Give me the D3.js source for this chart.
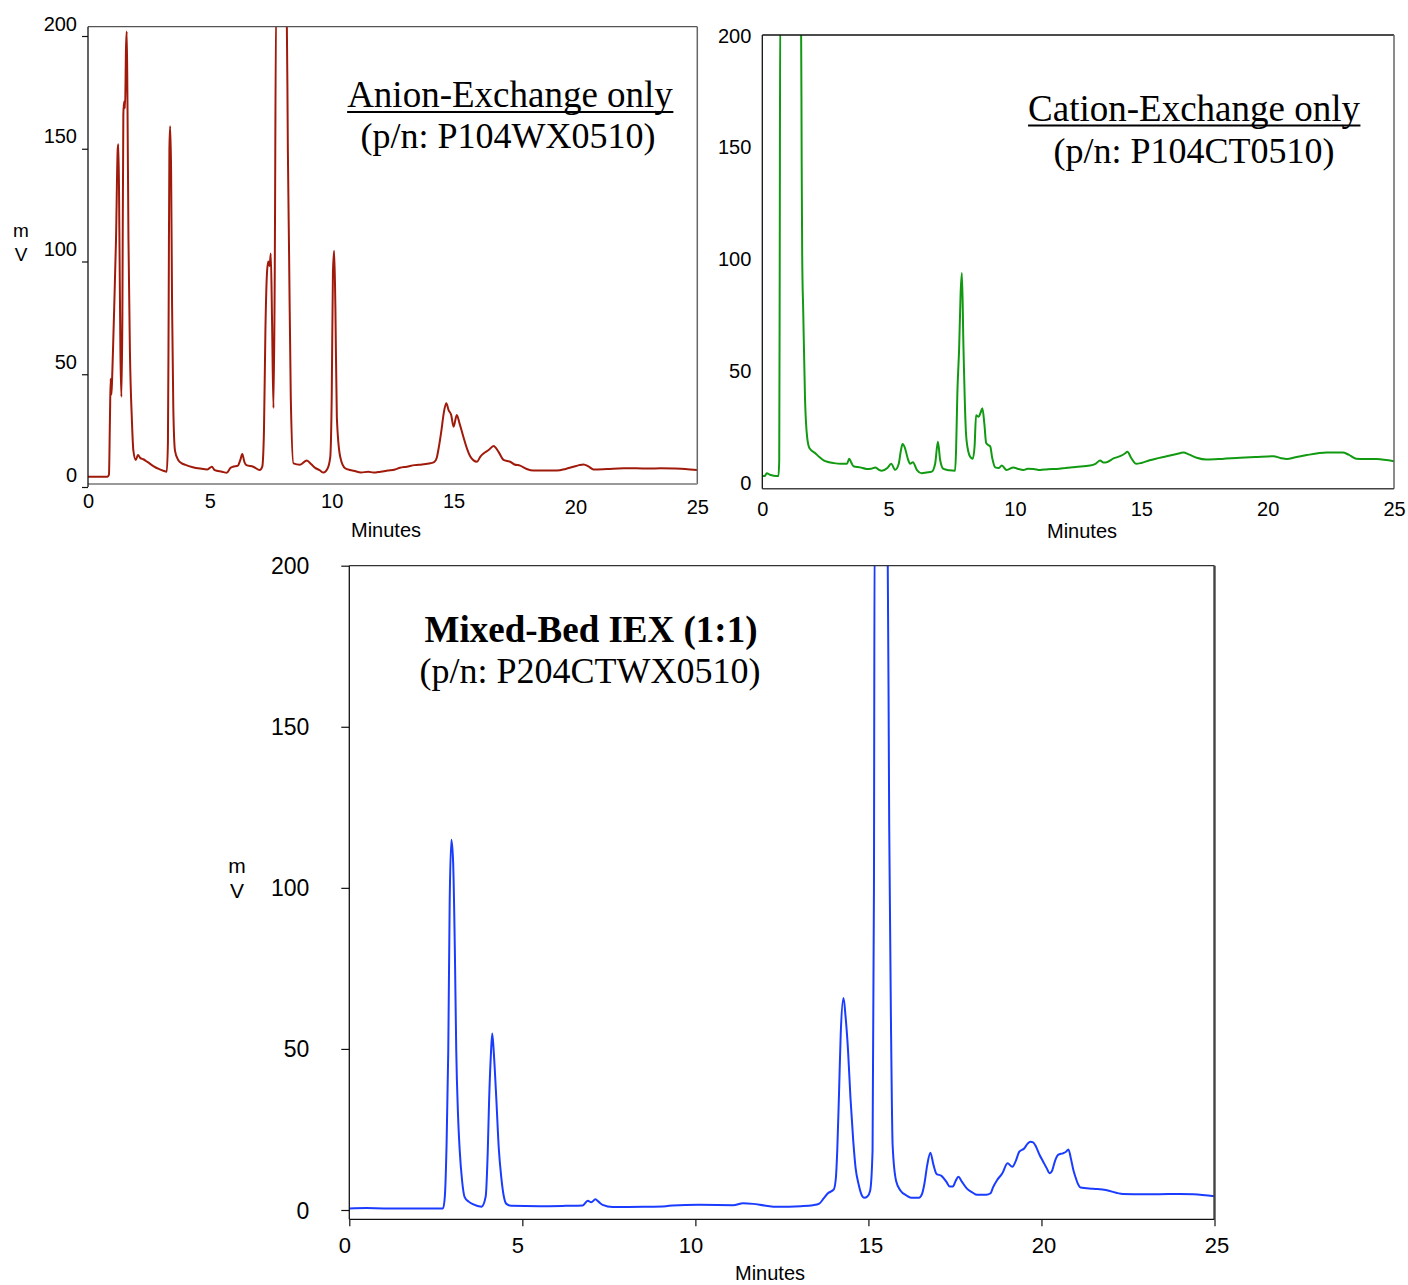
<!DOCTYPE html>
<html><head><meta charset="utf-8">
<script src="https://cdn.jsdelivr.net/npm/d3@7"></script>
<style>body{margin:0;background:#fff} svg{display:block}</style>
</head><body>
<svg id="c" width="1408" height="1285"></svg>
<script>
// ---------- data ----------
const timeTicks = [0, 5, 10, 15, 20, 25];
const mvTicks = [0, 50, 100, 150, 200];
const xLabel = "Minutes";
const yLabel = ["m", "V"];

const anionTitle = ["Anion-Exchange only", "(p/n: P104WX0510)"];
const cationTitle = ["Cation-Exchange only", "(p/n: P104CT0510)"];
const mixedTitle = ["Mixed-Bed IEX (1:1)", "(p/n: P204CTWX0510)"];

const anionTime = [0,0.8,0.86,0.9,0.93,0.96,0.99,1.05,1.15,1.22,1.25,1.29,1.33,1.37,1.41,1.45,1.48,1.52,1.56,1.59,1.62,1.66,1.72,1.8,1.86,1.96,2.05,2.15,2.27,2.45,2.68,2.9,3.09,3.23,3.28,3.31,3.34,3.37,3.41,3.45,3.5,3.57,3.7,3.85,4.0,4.3,4.6,4.9,5.08,5.2,5.5,5.69,5.85,5.95,6.15,6.25,6.33,6.42,6.5,6.78,7.05,7.15,7.22,7.28,7.35,7.4,7.45,7.5,7.55,7.61,7.66,7.72,8.15,8.2,8.25,8.32,8.43,8.7,8.98,9.15,9.32,9.5,9.66,9.82,9.94,10.0,10.05,10.1,10.15,10.21,10.35,10.55,10.76,10.9,11.2,11.5,11.71,12.0,12.3,12.6,12.8,13.08,13.4,13.7,14.04,14.2,14.31,14.4,14.5,14.6,14.7,14.8,14.9,15.0,15.13,15.25,15.4,15.55,15.68,15.82,15.96,16.1,16.23,16.45,16.64,16.85,17.05,17.2,17.32,17.5,17.73,18.0,18.28,18.8,19.24,19.6,19.92,20.15,20.33,20.55,20.74,21.3,21.98,22.5,23.0,23.5,24.03,24.5,25.0];
const anionMv   = [4.6,4.6,5.5,30,48,41,48,70,110,150,152,110,60,40,75,165,171,168,195,202,170,110,60,30,16.4,12,14.2,12.8,12.3,11,9.3,8,7.2,6.8,20,80,150,160,140,80,35,16,12,10.5,9.8,8.8,8.2,7.8,9,7.5,6.8,6.3,8.5,9,9.5,12,14.6,11,9.7,9,7.5,9,25,70,96,100,98,103.5,75,35,90,215,215,150,104,40,10.5,9.9,11.8,10.2,8.5,7.5,6.4,8,13.3,40,95,104.8,80,31,13.3,8.3,7.5,7.2,6.4,6.8,6.4,6.8,7.3,7.8,8.5,9,9.7,10,10.5,11,13,18,25,33,37.1,34,32,26.7,31.9,28,22.3,17,13.6,11.8,11.2,13.5,14.9,16.5,18.2,15.5,12,11.5,11.2,10,9.5,8,7.3,7.3,7.3,8,9,9.7,10,9,7.8,8,8.3,8.3,8.2,8.3,8.2,8,7.5];

const cationTime = [0,0.1,0.18,0.3,0.45,0.64,0.67,0.69,0.71,1.53,1.56,1.58,1.62,1.69,1.77,1.87,2.1,2.25,2.43,2.6,2.83,3.1,3.35,3.44,3.52,3.61,3.87,4.13,4.3,4.47,4.6,4.73,4.95,5.1,5.26,5.4,5.48,5.55,5.65,5.75,5.85,5.96,6.12,6.31,6.5,6.71,6.84,6.95,7.04,7.17,7.4,7.63,7.67,7.72,7.79,7.85,7.9,7.96,8.06,8.15,8.23,8.33,8.4,8.46,8.56,8.63,8.71,8.79,8.86,8.94,9.02,9.1,9.22,9.35,9.48,9.67,9.94,10.1,10.34,10.5,10.73,11.0,11.3,11.65,12.0,12.4,12.97,13.2,13.37,13.5,13.63,13.9,14.16,14.35,14.45,14.6,14.8,15.0,15.33,16.0,16.4,16.66,16.9,17.19,17.59,18.2,18.91,19.5,20.23,20.5,20.76,21.1,21.55,22.34,22.97,23.2,23.5,24.32,25.0];
const cationMv   = [2.95,3.0,4.2,3.5,3.1,3.0,10,100,215,215,140,99.8,76.5,37.8,20.8,15.3,13.1,11.5,9.9,9.2,8.7,8.4,8.4,10.7,9,7.3,6.8,6.1,6.2,6.8,5.8,5.3,6.5,8.4,5.7,8.4,14,17.2,15.3,11,8.4,9.1,5.6,4.2,4.5,4.9,8.4,18.2,10,6.1,5.5,5.3,15,40,60,85,93.6,61,22.3,14,11.5,10.7,16,30.1,29.4,31,33.2,26,17.7,16.8,16.2,11,6.8,6.5,7.6,5.6,6.8,6.2,5.6,6.2,6.1,5.6,6,6.1,6.5,7,7.6,8.5,9.9,9,9.1,10.8,11.8,13,13.8,11,8.4,8.8,10,11.8,12.8,13.4,12.5,11.1,10.3,10.6,11.1,11.4,11.8,11,10.5,11.3,12.3,13.4,13.4,12.5,10.7,10.5,9.5];

const mixedTime = [0,0.5,1.0,2.71,2.76,2.81,2.86,2.9,2.95,3.0,3.05,3.09,3.14,3.19,3.26,3.33,3.45,3.57,3.82,3.94,4.0,4.04,4.09,4.13,4.18,4.25,4.32,4.39,4.46,4.54,4.68,5.5,6.26,6.74,6.89,6.99,7.11,7.2,7.32,7.61,8.5,9.15,9.34,10.1,11.09,11.38,11.67,12.0,12.36,13.05,13.4,13.58,13.7,13.83,14.0,14.06,14.1,14.15,14.2,14.28,14.34,14.41,14.48,14.56,14.63,14.71,14.8,14.88,14.97,15.05,15.12,15.16,15.18,15.55,15.6,15.65,15.7,15.8,15.93,16.1,16.23,16.46,16.55,16.62,16.7,16.79,16.88,16.97,17.11,17.25,17.35,17.44,17.52,17.6,17.7,17.84,18.0,18.14,18.4,18.53,18.6,18.72,18.87,19.02,19.16,19.25,19.36,19.5,19.6,19.68,19.76,19.84,19.95,20.05,20.15,20.24,20.3,20.4,20.48,20.62,20.7,20.78,20.85,20.92,20.98,21.05,21.13,21.5,21.86,22.35,23.0,23.33,24.0,24.4,25.0];
const mixedMv   = [0.5,0.6,0.5,0.5,4.1,20,49.7,95,114.9,108,80.7,49.7,30,18.6,9,4.1,2.6,1.8,1.0,4.1,18,34.1,48,54.8,48,34.1,19,10.3,4.5,1.9,1.3,1.2,1.3,1.4,2.9,2.4,3.3,2.6,1.6,0.9,1.0,1.2,1.4,1.6,1.5,2.1,1.9,1.4,1.0,1.2,1.5,2.0,3.5,5.2,6.4,10,18.6,36,54.8,65.8,60,49.7,35,21.7,13,8.3,4.8,3.8,4.2,6.0,18.6,100,215,215,120,60,20,9,6,4.5,3.8,3.8,5,8.3,14,17.8,14,11.2,10.6,8.8,7.3,7.3,9,10.3,8.8,6.7,5.5,4.7,4.7,5.2,7,9.3,11.4,14.5,13.4,15,18.1,19.1,20.6,21.2,21,19.7,17,15,13,11.4,12,15.5,17.1,17.6,18,18.8,16,12.5,10.3,8.2,7.0,6.6,6.2,5.0,4.9,4.9,5.0,4.9,4.3];

// ---------- drawing ----------
const svg = d3.select("#c");
const SANS = "'Liberation Sans', Arial, sans-serif";
const SERIF = "'Liberation Serif', 'Times New Roman', serif";

function panel(o) {
  const g = svg.append("g");
  const x = d3.scaleLinear().domain([0, 25]).range([o.left, o.right]);
  const y = d3.scaleLinear().domain([0, 200]).range([o.y0, o.y200]);

  const clipId = "clip-" + o.id;
  svg.append("clipPath").attr("id", clipId).append("rect")
    .attr("x", o.left).attr("y", o.top)
    .attr("width", o.right - o.left).attr("height", o.bottom - o.top);

  // trace
  const pts = o.t.map((t, i) => [t, o.v[i]]);
  g.append("path").datum(pts)
    .attr("clip-path", `url(#${clipId})`)
    .attr("fill", "none").attr("stroke", o.color).attr("stroke-width", 2)
    .attr("stroke-linejoin", "round")
    .attr("d", d3.line().x(d => x(d[0])).y(d => y(d[1])).curve(d3.curveMonotoneX));

  // frame
  g.append("line").attr("x1", o.left).attr("x2", o.right).attr("y1", o.top).attr("y2", o.top)
    .attr("stroke", o.topColor).attr("stroke-width", 1.3);
  g.append("line").attr("x1", o.right).attr("x2", o.right).attr("y1", o.top).attr("y2", o.bottom)
    .attr("stroke", o.rightColor).attr("stroke-width", o.rightWidth);
  g.append("line").attr("x1", o.left).attr("x2", o.right).attr("y1", o.bottom).attr("y2", o.bottom)
    .attr("stroke", o.bottomColor).attr("stroke-width", o.bottomWidth);
  g.append("line").attr("x1", o.left).attr("x2", o.left).attr("y1", o.top).attr("y2", Math.max(o.bottom, o.y0))
    .attr("stroke", "#111").attr("stroke-width", 1.3);

  // y axis
  const ya = g.append("g").attr("transform", `translate(${o.left},0)`)
    .call(d3.axisLeft(y).tickValues(mvTicks).tickSize(o.yTick).tickPadding(o.yPad))
    .attr("font-family", SANS).attr("font-size", o.yFont).attr("color", "#111");
  ya.select(".domain").remove();
  ya.selectAll(".tick line").attr("stroke-width", 1.2);
  ya.selectAll(".tick text").attr("fill", "#000").attr("y", o.yLabelShift).attr("dy", "0.35em");

  // x axis
  const xa = g.append("g").attr("transform", `translate(0,${o.bottom})`)
    .call(d3.axisBottom(x).tickValues(timeTicks).tickSize(o.xTick))
    .attr("font-family", SANS).attr("font-size", o.xFont).attr("color", "#111");
  xa.select(".domain").remove();
  xa.selectAll(".tick line").attr("stroke-width", 1.2);
  xa.selectAll(".tick text").attr("fill", "#000")
    .attr("x", d => o.xLabelShift(d))
    .attr("y", d => (o.xLabelY(d) - o.bottom))
    .attr("dy", "0.35em");

  // axis titles
  g.append("text").attr("x", o.minX).attr("y", o.minY).attr("dy", "0.35em")
    .attr("text-anchor", "middle").attr("font-family", SANS).attr("font-size", 20).text(xLabel);
  if (o.mvX) {
    yLabel.forEach((s, i) => g.append("text").attr("x", o.mvX).attr("y", o.mvY[i]).attr("dy", "0.35em")
      .attr("text-anchor", "middle").attr("font-family", SANS).attr("font-size", o.mvFont).text(s));
  }

  // panel title
  const t1 = g.append("text").attr("x", o.t1x).attr("y", o.t1y).attr("text-anchor", "middle")
    .attr("font-family", SERIF).attr("font-size", 37).attr("font-weight", o.bold ? "bold" : "normal")
    .text(o.title[0]);
  if (o.underline) {
    const bb = t1.node().getBBox();
    g.append("line").attr("x1", bb.x).attr("x2", bb.x + bb.width)
      .attr("y1", o.t1y + o.underline).attr("y2", o.t1y + o.underline)
      .attr("stroke", "#000").attr("stroke-width", 2);
  }
  g.append("text").attr("x", o.t2x).attr("y", o.t2y).attr("text-anchor", "middle")
    .attr("font-family", SERIF).attr("font-size", 36).text(o.title[1]);
}

panel({
  id: "anion", t: anionTime, v: anionMv, color: "#a01a0b", title: anionTitle,
  left: 88, right: 697.3, top: 26.7, bottom: 484, y0: 487, y200: 36,
  topColor: "#555", rightColor: "#666", rightWidth: 1.5, bottomColor: "#999", bottomWidth: 2.2,
  yTick: 6, yPad: 5, yFont: 20, yLabelShift: -13,
  xTick: 0, xFont: 20, xLabelShift: d => 0, xLabelY: d => (d >= 20 ? 507 : 501),
  minX: 386, minY: 530, mvX: 21, mvY: [230, 254], mvFont: 19,
  t1x: 510, t1y: 107, t2x: 508, t2y: 148, underline: 5, bold: false
});

panel({
  id: "cation", t: cationTime, v: cationMv, color: "#119a11", title: cationTitle,
  left: 762.3, right: 1394, top: 35, bottom: 488.7, y0: 482.6, y200: 35,
  topColor: "#111", rightColor: "#666", rightWidth: 1.5, bottomColor: "#444", bottomWidth: 1.5,
  yTick: 0, yPad: 11, yFont: 20, yLabelShift: 0,
  xTick: 0, xFont: 20, xLabelShift: d => 0, xLabelY: d => 509,
  minX: 1082, minY: 531, mvX: null,
  t1x: 1194, t1y: 121, t2x: 1194, t2y: 163, underline: 4.5, bold: false
});

panel({
  id: "mixed", t: mixedTime, v: mixedMv, color: "#1a3cff", title: mixedTitle,
  left: 349.3, right: 1214.5, top: 565.7, bottom: 1219.3, y0: 1210, y200: 565.7,
  topColor: "#333", rightColor: "#444", rightWidth: 2.4, bottomColor: "#111", bottomWidth: 1.3,
  yTick: 8, yPad: 32, yFont: 23, yLabelShift: 0,
  xTick: 7, xFont: 22, xLabelShift: d => (d < 15 ? -5 : 2), xLabelY: d => 1245,
  minX: 770, minY: 1273, mvX: 237, mvY: [866, 891], mvFont: 21,
  t1x: 591, t1y: 642, t2x: 590, t2y: 683, underline: 0, bold: true
});
</script>
</body></html>
